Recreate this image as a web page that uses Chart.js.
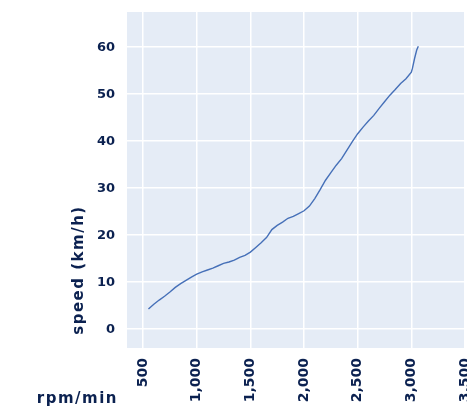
<!DOCTYPE html>
<html>
<head>
<meta charset="utf-8">
<script src="https://cdn.jsdelivr.net/npm/chart.js@4/dist/chart.umd.min.js"></script>
<style>
html,body{margin:0;padding:0;background:#fff;}
#wrap{width:467px;height:407px;}
</style>
</head>
<body>
<div id="wrap"><canvas id="c" width="467" height="407"></canvas></div>
<script>
const rpm = [550,600,650,700,750,800,850,900,950,1000,1050,1100,1150,1200,1250,1300,1350,1400,1450,1500,1550,1600,1650,1700,1750,1800,1850,1900,1950,2000,2050,2100,2150,2200,2250,2300,2350,2400,2450,2500,2550,2600,2650,2700,2750,2800,2850,2900,2950,3000,3010,3030,3050,3065];
const speed = [4.3,5.3,6.2,7.0,7.9,8.9,9.7,10.4,11.1,11.7,12.2,12.6,13.0,13.5,14.0,14.3,14.7,15.3,15.7,16.4,17.4,18.4,19.5,21.2,22.1,22.8,23.6,24.0,24.6,25.2,26.2,27.8,29.7,31.7,33.3,34.9,36.3,38.1,39.9,41.6,43.0,44.3,45.5,47.0,48.4,49.8,51.0,52.3,53.3,54.7,55.5,57.6,59.4,60.2];
const xTicks = [500,1000,1500,2000,2500,3000,3500];
const yTicks = [0,10,20,30,40,50,60];
const xTitle = "rpm/min";
const yTitle = "speed (km/h)";
const textColor = "#0b2150";

const bgPlugin = {
  id: 'bg',
  beforeDraw(chart) {
    const {ctx, chartArea: a} = chart;
    ctx.save();
    ctx.fillStyle = '#E5ECF6';
    ctx.fillRect(a.left, a.top, a.right - a.left, a.bottom - a.top);
    ctx.restore();
  },
  afterDraw(chart) {
    const {ctx, chartArea: a} = chart;
    ctx.save();
    ctx.fillStyle = textColor;
    ctx.font = 'bold 15px "DejaVu Sans", sans-serif';
    if ('letterSpacing' in ctx) ctx.letterSpacing = '1.5px';
    ctx.textAlign = 'right';
    ctx.textBaseline = 'middle';
    ctx.fillText(xTitle, a.left - 9, 399);
    ctx.font = 'bold 15px "DejaVu Sans", sans-serif';
    if ('letterSpacing' in ctx) ctx.letterSpacing = '1.5px';
    ctx.translate(79, 270);
    ctx.rotate(-Math.PI / 2);
    ctx.textAlign = 'center';
    ctx.fillText(yTitle, 0, 0);
    ctx.restore();
  }
};

new Chart(document.getElementById('c'), {
  type: 'line',
  data: {
    datasets: [{
      data: rpm.map((x, i) => ({x: x, y: speed[i]})),
      borderColor: '#4670b8',
      borderWidth: 1.4,
      pointRadius: 0,
      fill: false,
      tension: 0
    }]
  },
  options: {
    responsive: false,
    animation: false,
    layout: {padding: {top: 12, right: 2, left: 65, bottom: 0}},
    plugins: {legend: {display: false}, tooltip: {enabled: false}},
    scales: {
      x: {
        type: 'linear',
        min: 350,
        max: 3500,
        afterBuildTicks(s) { s.ticks = xTicks.map(v => ({value: v})); },
        afterFit(s) { s.height = 59; s.paddingLeft = 0; s.paddingRight = 0; },
        grid: {color: '#ffffff', lineWidth: 1.5, drawTicks: false},
        border: {display: false},
        ticks: {
          minRotation: 90,
          maxRotation: 90,
          autoSkip: false,
          padding: 10,
          color: textColor,
          font: {family: '"DejaVu Sans", sans-serif', size: 14, weight: 'bold'},
          callback: v => v.toLocaleString('en-US')
        }
      },
      y: {
        type: 'linear',
        min: -4,
        max: 67.5,
        afterBuildTicks(s) { s.ticks = yTicks.map(v => ({value: v})); },
        afterFit(s) { s.width = 62; s.paddingTop = 0; s.paddingBottom = 0; },
        grid: {color: '#ffffff', lineWidth: 1.5, drawTicks: false},
        border: {display: false},
        ticks: {
          autoSkip: false,
          padding: 12,
          color: textColor,
          font: {family: '"DejaVu Sans", sans-serif', size: 13, weight: 'bold'}
        }
      }
    }
  },
  plugins: [bgPlugin]
});
</script>
</body>
</html>
